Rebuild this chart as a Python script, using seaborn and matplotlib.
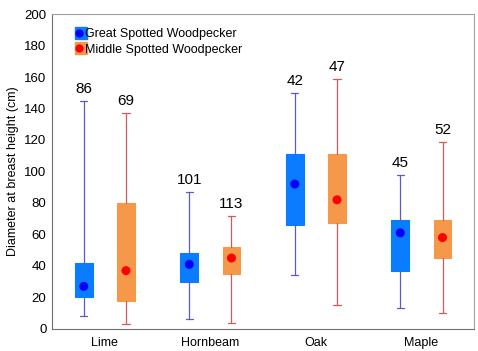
import numpy as np
import pandas as pd
import seaborn as sns
import matplotlib.pyplot as plt
import matplotlib.patches as mpatches
import matplotlib.lines as mlines
from matplotlib.legend_handler import HandlerTuple

# ---- Summary values ----
trees = ["Lime", "Hornbeam", "Oak", "Maple"]
species = ["Great Spotted Woodpecker", "Middle Spotted Woodpecker"]

gsw_low = [8, 6, 34, 13]
gsw_q1 = [20, 30, 66, 37]
gsw_q3 = [42, 48, 111, 69]
gsw_high = [145, 87, 150, 98]
gsw_mean = [27, 41, 92, 61]
gsw_n = [86, 101, 42, 45]

msw_low = [3, 4, 15, 10]
msw_q1 = [18, 35, 67, 45]
msw_q3 = [80, 52, 111, 69]
msw_high = [137, 72, 159, 119]
msw_mean = [37, 45, 82, 58]
msw_n = [69, 113, 47, 52]

sns.set_style("white")
plt.rcParams["font.family"] = ["Liberation Sans", "DejaVu Sans"]
plt.rcParams["text.color"] = "black"
plt.rcParams["axes.labelcolor"] = "black"
plt.rcParams["xtick.color"] = "black"
plt.rcParams["ytick.color"] = "black"

box_colors = ["#0a7cff", "#f5984a"]
whisk_colors = ["#5a5ac8", "#d05a5a"]
mean_colors = ["#0000ff", "#ff0000"]
offset = 0.2

fig = plt.figure(figsize=(4.78, 3.51), dpi=100)
ax = fig.add_axes([0.109, 0.063, 0.883, 0.897])

groups = [
    (gsw_low, gsw_q1, gsw_q3, gsw_high, gsw_mean, gsw_n),
    (msw_low, msw_q1, msw_q3, msw_high, msw_mean, msw_n),
]
rows = []
for k, (lo, q1, q3, hi, mn, n) in enumerate(groups):
    stats = []
    for i in range(len(trees)):
        stats.append({"whislo": lo[i], "q1": q1[i], "med": mn[i],
                      "q3": q3[i], "whishi": hi[i], "fliers": []})
        rows.append({"x": i + (2 * k - 1) * offset, "mean": mn[i],
                     "species": species[k]})
    pos = [i + (2 * k - 1) * offset for i in range(len(trees))]
    ax.bxp(stats, positions=pos, widths=0.17, patch_artist=True,
           showfliers=False, capwidths=0.07,
           boxprops=dict(facecolor=box_colors[k], edgecolor=box_colors[k], linewidth=0.8),
           medianprops=dict(linewidth=0),
           whiskerprops=dict(color=whisk_colors[k], linewidth=0.9),
           capprops=dict(color=whisk_colors[k], linewidth=0.9),
           manage_ticks=False)
    for i in range(len(trees)):
        ax.text(pos[i], hi[i] + 3, str(n[i]), ha="center", va="bottom", fontsize=11)

means = pd.DataFrame(rows)
sns.scatterplot(data=means, x="x", y="mean", hue="species",
                palette=mean_colors, s=42, edgecolor="none", legend=False,
                ax=ax, zorder=5)

ax.set_xlim(-0.5, 3.5)
ax.set_ylim(0, 200)
ax.set_xticks(range(len(trees)))
ax.set_xticklabels(trees, fontsize=9)
ax.set_yticks(range(0, 201, 20))
ax.tick_params(axis="y", labelsize=9.5, length=0, pad=4)
ax.tick_params(axis="x", length=0, pad=6)
ax.set_xlabel("")
ax.set_ylabel("Diameter at breast height (cm)", fontsize=9)
for s in ["left", "bottom"]:
    ax.spines[s].set_color("#707070")
for s in ["top", "right"]:
    ax.spines[s].set_color("#a0a0a0")

handles = []
for k in range(2):
    sq = mlines.Line2D([], [], marker="s", markersize=8, color=box_colors[k], linestyle="None")
    dot = mlines.Line2D([], [], marker="o", markersize=5, color=mean_colors[k], linestyle="None")
    handles.append((sq, dot))
ax.legend(handles, species, handler_map={tuple: HandlerTuple(ndivide=None, pad=-1)},
          loc="upper left", bbox_to_anchor=(0.045, 0.97), frameon=False,
          fontsize=9, handlelength=0.6, handletextpad=0.15, labelspacing=0.25,
          borderaxespad=0)

fig.savefig("out.png", dpi=100)
